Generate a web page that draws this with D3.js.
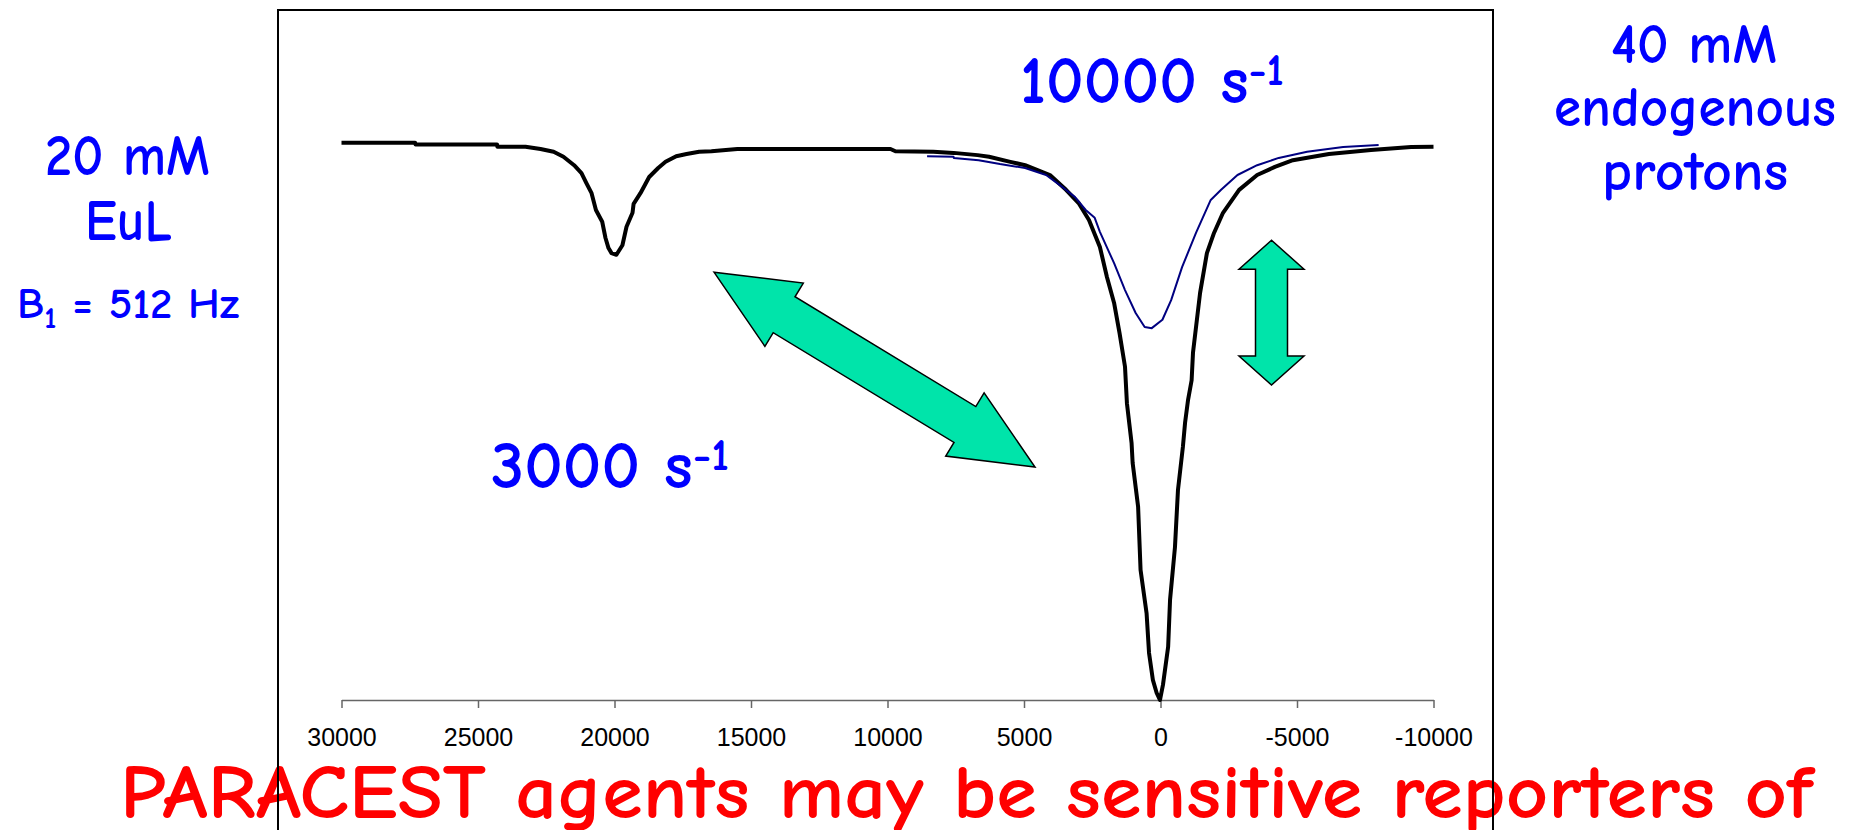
<!DOCTYPE html>
<html>
<head>
<meta charset="utf-8">
<script src="https://cdn.jsdelivr.net/npm/d3@7"></script>
<style>
  body { margin: 0; background: #fff; overflow: hidden; }
</style>
</head>
<body>
<div id="chart-container"></div>
<script>
const svgWidth = 1858;
const svgHeight = 830;

// Frequency offset (Hz) tick labels
const xTicks = [30000, 25000, 20000, 15000, 10000, 5000, 0, -5000, -10000];

// Black trace (3000 s-1)
const offsetSlow = [30000, 27300, 27290, 24300, 24290, 23260, 22710, 22230, 21870, 21480,
    21210, 21030, 20840, 20680, 20450, 20330, 20220, 20110, 19930, 19710,
    19560, 19340, 19300, 19050, 18730, 18400, 18130, 17740, 17360, 16900,
    16450, 15500, 9890, 9710, 8320, 7580, 6700, 6280, 5500, 4960,
    4050, 3460, 3000, 2620, 2220, 1960, 1700, 1500, 1300, 1230,
    1060, 1020, 820, 730, 510, 420, 280, 140, 20, -90,
    -280, -350, -530, -640, -820, -900, -1010, -1140, -1190, -1450,
    -1700, -1960, -2290, -2880, -3540, -4190, -4850, -6170, -7710, -9180, -10000];
const zSlow = [0.995, 0.995, 0.992, 0.992, 0.988, 0.988, 0.984, 0.979, 0.970, 0.955,
    0.941, 0.923, 0.905, 0.875, 0.854, 0.825, 0.807, 0.798, 0.795, 0.812,
    0.845, 0.870, 0.886, 0.905, 0.934, 0.950, 0.961, 0.971, 0.975, 0.979,
    0.980, 0.984, 0.984, 0.980, 0.979, 0.977, 0.973, 0.970, 0.961, 0.955,
    0.9375, 0.911, 0.8875, 0.857, 0.809, 0.755, 0.709, 0.655, 0.595, 0.53,
    0.459, 0.423, 0.345, 0.232, 0.155, 0.084, 0.036, 0.0125, 0.0, 0.027,
    0.095, 0.179, 0.273, 0.375, 0.452, 0.495, 0.536, 0.571, 0.620, 0.727,
    0.798, 0.834, 0.870, 0.911, 0.9375, 0.952, 0.964, 0.975, 0.982, 0.9875, 0.988];

// Blue trace (10000 s-1)
const offsetFast = [8550, 7580, 7570, 6660, 5880, 4960, 4190, 3540, 3130, 2740,
    2410, 2220, 1700, 1300, 910, 580, 320, -70, -390, -790,
    -1300, -1840, -2220, -2820, -3540, -4330, -5370, -6690, -7990];
const zFast = [0.971, 0.970, 0.968, 0.964, 0.957, 0.950, 0.9375, 0.914, 0.898, 0.875,
    0.861, 0.836, 0.780, 0.732, 0.691, 0.666, 0.664, 0.679, 0.714, 0.773,
    0.834, 0.893, 0.911, 0.9375, 0.955, 0.968, 0.979, 0.9875, 0.991];

// Double arrows: end points in data units [offset, z]
const diagArrow = [[16355, 0.764], [4597, 0.416]];
const vertArrow = [[-4066, 0.821], [-4066, 0.5625]];

var svg = d3.select("#chart-container")
    .append("svg")
    .attr("width", svgWidth)
    .attr("height", svgHeight);

var xScale = d3.scaleLinear()
    .domain([30000, -10000])
    .range([341.5, 1433.5]);

var yScale = d3.scaleLinear()
    .domain([0, 1])
    .range([700, 140]);

// x axis
var xAxis = svg.append("g")
    .attr("transform", `translate(0, ${yScale(0)})`)
    .call(d3.axisBottom(xScale)
        .tickValues(xTicks)
        .tickFormat(d => String(d))
        .tickSize(8)
        .tickSizeOuter(0)
        .tickPadding(20));

xAxis.select(".domain").attr("stroke", "#666").attr("stroke-width", 1.5);
xAxis.selectAll(".tick line").attr("stroke", "#666").attr("stroke-width", 1.5);
xAxis.selectAll(".tick text")
    .attr("fill", "#000")
    .style("font-family", "'Liberation Sans', Arial, sans-serif")
    .style("font-size", "25px");

var line = d3.line()
    .x(d => xScale(d[0]))
    .y(d => yScale(d[1]));

svg.append("path")
    .datum(d3.zip(offsetSlow, zSlow))
    .attr("fill", "none")
    .attr("stroke", "#000")
    .attr("stroke-width", 4)
    .attr("stroke-linejoin", "round")
    .attr("d", line);

svg.append("path")
    .datum(d3.zip(offsetFast, zFast))
    .attr("fill", "none")
    .attr("stroke", "#000080")
    .attr("stroke-width", 2)
    .attr("stroke-linejoin", "round")
    .attr("d", line);

// Build a double headed block arrow between two points
function doubleArrow(p0, p1, headLen, headHalf, shaftHalf) {
    var x0 = xScale(p0[0]), y0 = yScale(p0[1]);
    var x1 = xScale(p1[0]), y1 = yScale(p1[1]);
    var len = Math.hypot(x1 - x0, y1 - y0);
    var ux = (x1 - x0) / len, uy = (y1 - y0) / len;
    var nx = -uy, ny = ux;
    function pt(along, side) {
        return [x0 + ux * along + nx * side, y0 + uy * along + ny * side];
    }
    return [
        pt(0, 0),
        pt(headLen, headHalf),
        pt(headLen, shaftHalf),
        pt(len - headLen, shaftHalf),
        pt(len - headLen, headHalf),
        pt(len, 0),
        pt(len - headLen, -headHalf),
        pt(len - headLen, -shaftHalf),
        pt(headLen, -shaftHalf),
        pt(headLen, -headHalf)
    ];
}

svg.append("polygon")
    .attr("points", doubleArrow(diagArrow[0], diagArrow[1], 82, 37, 21).join(" "))
    .attr("fill", "#00E4AA")
    .attr("stroke", "#000")
    .attr("stroke-width", 1.5);

svg.append("polygon")
    .attr("points", doubleArrow(vertArrow[0], vertArrow[1], 29, 32.5, 16).join(" "))
    .attr("fill", "#00E4AA")
    .attr("stroke", "#000")
    .attr("stroke-width", 1.5);

// Labels
const labelFont = "'Comic Sans MS', 'Comic Neue', 'Open Sans', sans-serif";

function addLabel(x, y, width, size, color, parts) {
    var t = svg.append("text")
        .attr("x", x)
        .attr("y", y)
        .attr("fill", color)
        .style("font-family", labelFont)
        .style("font-weight", 600)
        .style("font-size", size + "px");
    parts.forEach(function (p) {
        var s = t.append("tspan").text(p.text);
        if (p.size) s.style("font-size", p.size + "px");
        if (p.dy) s.attr("dy", p.dy);
    });
    t.attr("textLength", width).attr("lengthAdjust", "spacingAndGlyphs");
    return t;
}

addLabel(45, 175, 165, 59, "#0000FF", [{text: "20 mM"}]);
addLabel(85, 240, 87, 59, "#0000FF", [{text: "EuL"}]);
addLabel(17, 318, 222, 43, "#0000FF", [
    {text: "B"}, {text: "1", size: 30, dy: 10}, {text: " = 512 Hz", dy: -10}]);

addLabel(1611, 63, 166, 57, "#0000FF", [{text: "40 mM"}]);
addLabel(1554, 126, 282, 57, "#0000FF", [{text: "endogenous"}]);
addLabel(1602, 190, 186, 57, "#0000FF", [{text: "protons"}]);

addLabel(1020, 103, 264, 67, "#0000FF", [
    {text: "10000 s"}, {text: "-1", size: 45, dy: -18}]);
addLabel(491, 488, 238, 67, "#0000FF", [
    {text: "3000 s"}, {text: "-1", size: 45, dy: -18}]);

addLabel(120, 818, 1693, 77, "#FF0000", [{text: "PARACEST agents may be sensitive reporters of"}]);

// Plot frame (drawn last so it sits over the caption)
svg.append("rect")
    .attr("x", 278)
    .attr("y", 10)
    .attr("width", 1493 - 278)
    .attr("height", 900)
    .attr("fill", "none")
    .attr("stroke", "#000")
    .attr("stroke-width", 2);
</script>
</body>
</html>
